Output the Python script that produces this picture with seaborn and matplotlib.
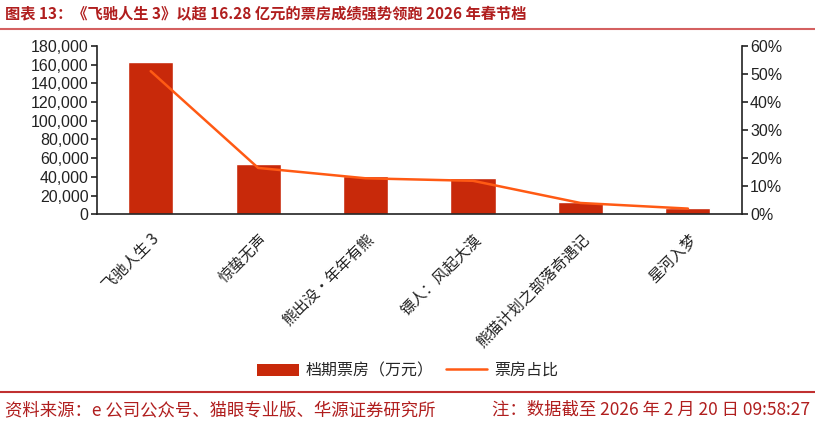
import numpy as np
import pandas as pd
import matplotlib.pyplot as plt
import seaborn as sns
from matplotlib.patches import Patch
from matplotlib.lines import Line2D
from matplotlib.ticker import FuncFormatter, PercentFormatter

# Données
films = ["飞驰人生 3", "惊蛰无声", "熊出没·年年有熊", "镖人：风起大漠", "熊猫计划之部落奇遇记", "星河入梦"]
box_office = [162800, 53200, 41000, 38600, 13000, 6500]      # 万元
share = [51.0, 16.5, 12.8, 11.9, 4.0, 2.0]                   # %

bar_color = "#C8290A"
line_color = "#FF5A14"
title_color = "#B01E1E"
cjk = ["Noto Sans CJK SC", "DejaVu Sans"]

sns.set_style("white")
plt.rcParams["font.family"] = ["Liberation Sans", "Noto Sans CJK SC", "DejaVu Sans"]
plt.rcParams["axes.unicode_minus"] = False

df = pd.DataFrame({"film": films, "box": box_office, "share": share})

fig = plt.figure(figsize=(8.15, 4.25), dpi=100)
ax = fig.add_axes([0.119, 0.496, 0.791, 0.396])

sns.barplot(data=df, x="film", y="box", color=bar_color, width=0.42,
            saturation=1, ax=ax)
ax.set_xlim(-0.5, len(films) - 0.5)
ax.set_ylim(0, 180000)
ax.set_yticks(np.arange(0, 180001, 20000))
ax.yaxis.set_major_formatter(FuncFormatter(lambda v, p: f"{int(v):,}"))
ax.set_xlabel("")
ax.set_ylabel("")

ax2 = ax.twinx()
sns.lineplot(x=np.arange(len(films)), y=df["share"], color=line_color,
             linewidth=1.8, ax=ax2)
ax2.set_ylim(0, 60)
ax2.set_yticks(np.arange(0, 61, 10))
ax2.yaxis.set_major_formatter(PercentFormatter(decimals=0))
ax2.set_ylabel("")

for a in (ax, ax2):
    a.spines["top"].set_visible(False)
    for s in ("left", "right", "bottom"):
        a.spines[s].set_color("#222222")
        a.spines[s].set_linewidth(1.2)
    a.tick_params(axis="y", labelsize=11.5, colors="#222222", length=4,
                  width=1.2, direction="out", pad=2)
ax.spines["right"].set_visible(False)
ax2.spines["left"].set_visible(False)
ax2.spines["bottom"].set_visible(False)

# ticks de catégorie aux limites
ax.set_xticks(np.arange(-0.5, len(films), 1.0), minor=True)
ax.tick_params(axis="x", which="minor", length=5, width=1.2, color="#222222", direction="out")
ax.tick_params(axis="x", which="major", length=0, pad=12)
ax.set_xticklabels(films, rotation=45, ha="right", rotation_mode="anchor",
                   fontsize=11, color="#222222", family=cjk)

# légende
handles = [Patch(facecolor=bar_color, edgecolor="none"),
           Line2D([0], [0], color=line_color, linewidth=1.8)]
fig.legend(handles, ["档期票房（万元）", "票房占比"], loc="center",
           bbox_to_anchor=(0.5, 0.128), ncol=2, frameon=False, fontsize=11.5,
           handlelength=2.6, handleheight=0.8, columnspacing=0.8, handletextpad=0.4)

# titre et source
fig.text(0.006, 0.968, "图表 13：《飞驰人生 3》以超 16.28 亿元的票房成绩强势领跑 2026 年春节档",
         color=title_color, fontsize=11, fontweight="bold", va="center", ha="left",
         family=cjk)
fig.add_artist(Line2D([0, 1], [0.932, 0.932], color="#D46060", linewidth=1.5,
                      transform=fig.transFigure))
fig.add_artist(Line2D([0, 1], [0.077, 0.077], color="#C03030", linewidth=1.5,
                      transform=fig.transFigure))
fig.text(0.006, 0.035, "资料来源：e 公司公众号、猫眼专业版、华源证券研究所",
         color=title_color, fontsize=12.5, va="center", ha="left", family=cjk)
fig.text(0.994, 0.035, "注：数据截至 2026 年 2 月 20 日 09:58:27",
         color=title_color, fontsize=12.5, va="center", ha="right", family=cjk)

fig.savefig("out.png", dpi=100)
